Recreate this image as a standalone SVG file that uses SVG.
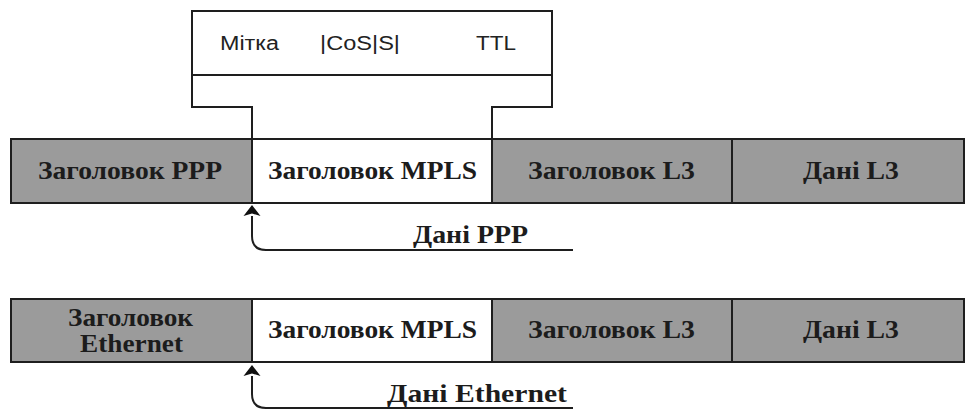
<svg xmlns="http://www.w3.org/2000/svg" width="966" height="410" viewBox="0 0 966 410">
  <style>
    .cell { stroke: #1e1e1e; stroke-width: 2; }
    .grey { fill: #9b9b9b; }
    .white { fill: #ffffff; }
    .lbl { font-family: "Liberation Serif", "Times New Roman", serif; font-weight: bold; font-size: 25px; fill: #1c1c1c; }
    .field { font-family: "Liberation Sans", Arial, sans-serif; font-size: 20px; fill: #222222; }
    .line { fill: none; stroke: #1e1e1e; stroke-width: 2; }
  </style>
  <defs>
    <marker id="arrow" markerWidth="18" markerHeight="18" refX="0" refY="9" orient="auto" markerUnits="userSpaceOnUse">
      <path d="M0,0.5 L11,9 L0,17.5 L2.5,9 Z" fill="#111111"/>
    </marker>
  </defs>

  <!-- MPLS label structure -->
  <g id="mpls-label">
    <path class="line" d="M252,139 V107 H192 V11 H552 V107 H492 V139"/>
    <line class="line" x1="192" y1="75" x2="552" y2="75"/>
    <text class="field" x="220" y="50" textLength="59" lengthAdjust="spacingAndGlyphs">Мітка</text>
    <text class="field" x="320" y="50" textLength="80" lengthAdjust="spacingAndGlyphs">|CoS|S|</text>
    <text class="field" x="476" y="50" textLength="40" lengthAdjust="spacingAndGlyphs">TTL</text>
  </g>

  <!-- PPP frame -->
  <g id="ppp-frame">
    <g id="ppp-header">
      <rect class="cell grey" x="11" y="139" width="241" height="64"/>
      <text class="lbl" x="38" y="179" textLength="184" lengthAdjust="spacingAndGlyphs">Заголовок PPP</text>
    </g>
    <g id="ppp-mpls">
      <rect class="cell white" x="252" y="139" width="240" height="64"/>
      <text class="lbl" x="268" y="179" textLength="209" lengthAdjust="spacingAndGlyphs">Заголовок MPLS</text>
    </g>
    <g id="ppp-l3-header">
      <rect class="cell grey" x="492" y="139" width="240" height="64"/>
      <text class="lbl" x="528" y="179" textLength="167" lengthAdjust="spacingAndGlyphs">Заголовок L3</text>
    </g>
    <g id="ppp-l3-data">
      <rect class="cell grey" x="732" y="139" width="232" height="64"/>
      <text class="lbl" x="803" y="179" textLength="96" lengthAdjust="spacingAndGlyphs">Дані L3</text>
    </g>
    <text id="ppp-data" class="lbl" x="413" y="243" textLength="115" lengthAdjust="spacingAndGlyphs">Дані PPP</text>
  </g>

  <!-- Ethernet frame -->
  <g id="eth-frame">
    <g id="eth-header">
      <rect class="cell grey" x="11" y="299" width="241" height="63"/>
      <text class="lbl" x="68" y="326" textLength="125" lengthAdjust="spacingAndGlyphs">Заголовок</text>
      <text class="lbl" x="80" y="352" textLength="103" lengthAdjust="spacingAndGlyphs">Ethernet</text>
    </g>
    <g id="eth-mpls">
      <rect class="cell white" x="252" y="299" width="240" height="63"/>
      <text class="lbl" x="268" y="338" textLength="209" lengthAdjust="spacingAndGlyphs">Заголовок MPLS</text>
    </g>
    <g id="eth-l3-header">
      <rect class="cell grey" x="492" y="299" width="240" height="63"/>
      <text class="lbl" x="528" y="338" textLength="167" lengthAdjust="spacingAndGlyphs">Заголовок L3</text>
    </g>
    <g id="eth-l3-data">
      <rect class="cell grey" x="732" y="299" width="232" height="63"/>
      <text class="lbl" x="803" y="338" textLength="96" lengthAdjust="spacingAndGlyphs">Дані L3</text>
    </g>
    <text id="eth-data" class="lbl" x="387" y="402" textLength="180" lengthAdjust="spacingAndGlyphs">Дані Ethernet</text>
  </g>

  <!-- connectors: payload start pointers -->
  <g id="connectors">
    <path class="line" d="M573,250 H266 Q252,250 252,236 V216" marker-end="url(#arrow)"/>
    <path class="line" d="M573,408 H266 Q252,408 252,394 V376" marker-end="url(#arrow)"/>
  </g>
</svg>
